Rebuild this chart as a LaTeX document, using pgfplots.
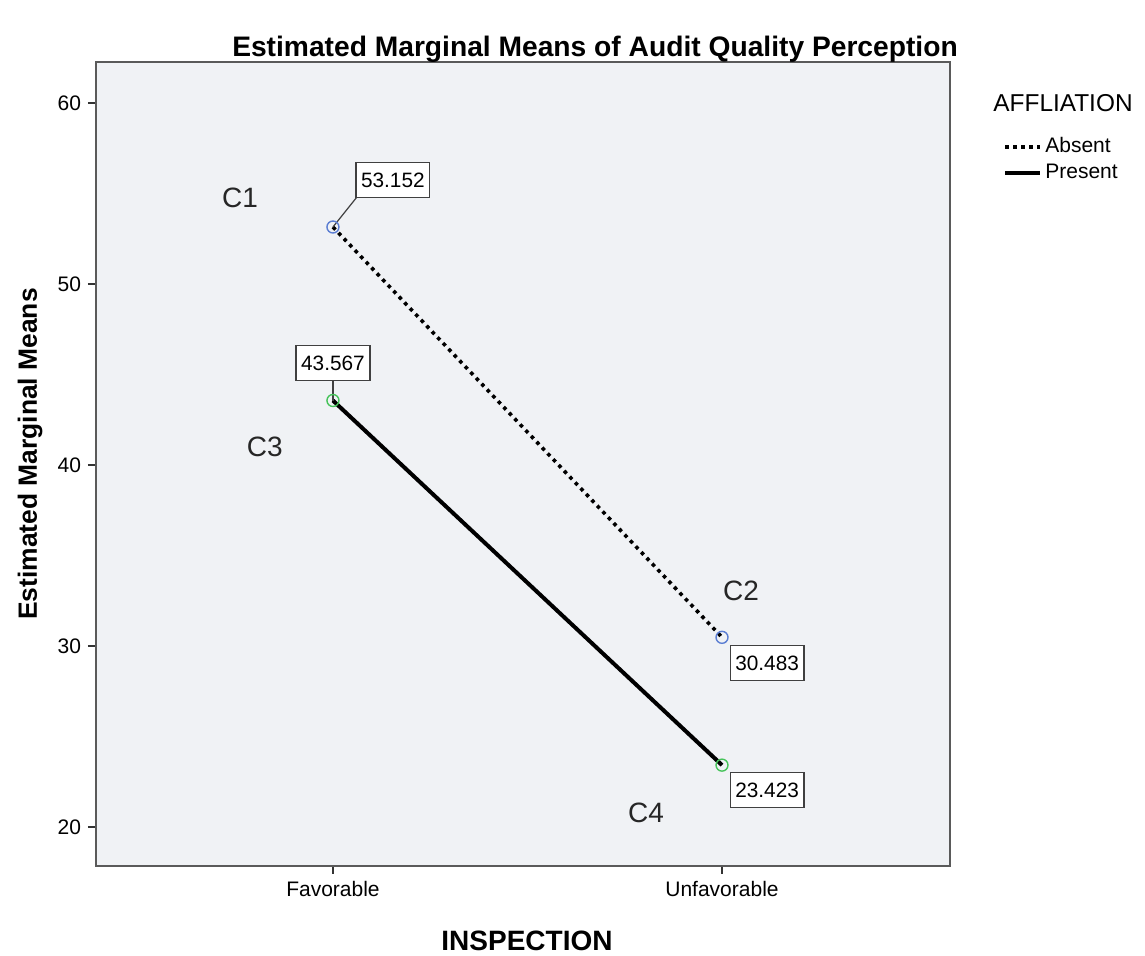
\documentclass[border=0pt]{standalone}
\usepackage{pgfplots}
\pgfplotsset{compat=1.18}
\usepackage{fontspec}
\setmainfont{Liberation Sans}
\definecolor{bgfill}{RGB}{240,242,245}
\definecolor{frame}{RGB}{90,90,90}
\definecolor{mblue}{RGB}{90,125,210}
\definecolor{mgreen}{RGB}{70,195,90}
\begin{document}
\begin{tikzpicture}[x=1pt,y=1pt]
\useasboundingbox (0,0) rectangle (572.5,478);
\begin{axis}[
  at={(48pt,45pt)}, anchor=south west,
  scale only axis, width=427pt, height=402pt,
  xmin=-0.609, xmax=1.586, ymin=17.85, ymax=62.27,
  axis background/.style={fill=bgfill},
  axis line style={draw=frame, line width=1pt},
  xtick={0,1}, xticklabels={Favorable,Unfavorable},
  ytick={20,30,40,50,60},
  tick align=outside, tick pos=left,
  major tick length=4pt,
  tick style={draw=black!80, line width=0.8pt},
  /pgf/number format/assume math mode=true,
  ticklabel style={font=\fontsize{10.5}{12}\selectfont},
  legend style={at={(rel axis cs:1.062,0.91)}, anchor=north west, draw=none, fill=none,
     font=\fontsize{10.5}{12}\selectfont, inner sep=0pt, row sep=1pt,
     nodes={inner sep=1.5pt}},
  legend cell align=left,
  legend image code/.code={\draw[#1, mark=none] (0pt,0pt) -- (17.5pt,0pt);},
  clip=false,
]
\addplot[black, line width=1.8pt, dash pattern=on 1.8pt off 2.2pt,
   mark=o, mark size=3pt, mark options={draw=mblue, line width=0.7pt, solid}]
  coordinates {(0,53.152) (1,30.483)};
\addlegendentry{Absent}
\addplot[black, line width=2pt,
   mark=o, mark size=3pt, mark options={draw=mgreen, line width=0.7pt, solid}]
  coordinates {(0,43.567) (1,23.423)};
\addlegendentry{Present}
% leader lines
\draw[black!75, line width=0.6pt] (axis cs:0,53.152) -- (axis cs:0.0617,54.81);
\draw[black!75, line width=0.6pt] (axis cs:0,43.567) -- (axis cs:0,44.70);
% value boxes
\tikzset{vbox/.style={draw=black!75, line width=0.8pt, fill=white, font=\fontsize{10.4}{12}\selectfont,
   inner xsep=2.5pt, inner ysep=0pt, minimum height=17.5pt}}
\node[vbox] at (axis cs:0.154,55.75) {53.152};
\node[vbox] at (axis cs:0,45.64) {43.567};
\node[vbox] at (axis cs:1.116,29.06) {30.483};
\node[vbox] at (axis cs:1.116,22.04) {23.423};
% C labels
\tikzset{clab/.style={font=\fontsize{14}{16}\selectfont, text=black!85}}
\node[clab] at (axis cs:-0.239,54.75) {C1};
\node[clab] at (axis cs:1.049,33.04) {C2};
\node[clab] at (axis cs:-0.175,41.0) {C3};
\node[clab] at (axis cs:0.805,20.77) {C4};
\end{axis}
\node[font=\bfseries\fontsize{14.1}{16}\selectfont] at (297.5,453.5) {Estimated Marginal Means of Audit Quality Perception};
\node[font=\bfseries\fontsize{13.2}{16}\selectfont, rotate=90] at (15,251) {Estimated Marginal Means};
\node[font=\bfseries\fontsize{14}{16}\selectfont] at (263.5,7.5) {INSPECTION};
\node[font=\fontsize{12.2}{14}\selectfont, anchor=west, inner sep=0pt] at (496.5,426.5) {AFFLIATION};
\end{tikzpicture}
\end{document}
